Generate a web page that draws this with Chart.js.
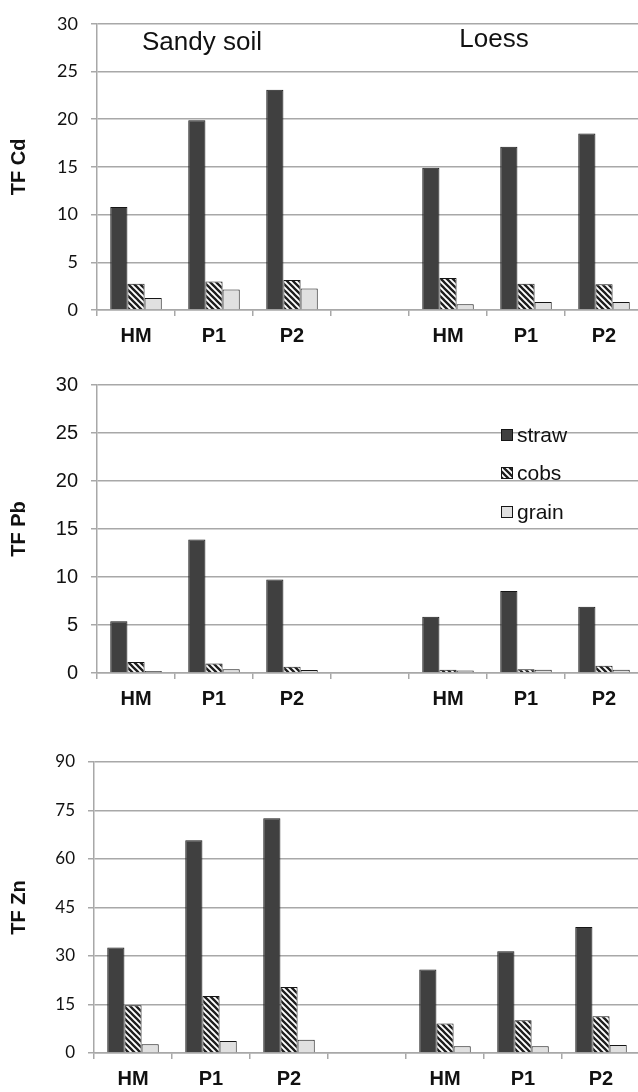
<!DOCTYPE html>
<html>
<head>
<meta charset="utf-8">
<script src="https://cdn.jsdelivr.net/npm/chart.js@4/dist/chart.umd.min.js"></script>
<style>
  html, body { margin: 0; padding: 0; background: #fff; width: 638px; height: 1092px; overflow: hidden; }
  canvas { position: absolute; left: 0; }
  #cd { top: 0; }
  #pb { top: 360px; }
  #zn { top: 720px; }
</style>
</head>
<body>
<canvas id="cd" width="650" height="360"></canvas>
<canvas id="pb" width="650" height="360"></canvas>
<canvas id="zn" width="650" height="372"></canvas>
<script>
const categories = ["HM", "P1", "P2", "", "HM", "P1", "P2"];
const seriesNames = ["straw", "cobs", "grain"];
const soilLabels = ["Sandy soil", "Loess"];

// transfer factors (gap column is null)
const cdStraw = [10.8, 19.9, 23.1, null, 14.9, 17.1, 18.5];
const cdCobs = [2.75, 3.0, 3.15, null, 3.35, 2.75, 2.7];
const cdGrain = [1.25, 2.15, 2.25, null, 0.6, 0.85, 0.85];

const pbStraw = [5.4, 13.9, 9.75, null, 5.85, 8.55, 6.9];
const pbCobs = [1.15, 1.0, 0.65, null, 0.35, 0.4, 0.75];
const pbGrain = [0.2, 0.4, 0.3, null, 0.25, 0.35, 0.35];

const znStraw = [32.6, 65.8, 72.6, null, 25.8, 31.5, 39.0];
const znCobs = [14.8, 17.6, 20.4, null, 9.1, 10.1, 11.4];
const znGrain = [2.7, 3.7, 4.1, null, 2.1, 2.1, 2.5];

const cdTicks = { max: 30, step: 5 };
const pbTicks = { max: 30, step: 5 };
const znTicks = { max: 90, step: 15 };

const gridColor = "#a8a8a8";

function hatch() {
    const c = document.createElement("canvas");
    c.width = 6;
    c.height = 6;
    const g = c.getContext("2d");
    g.fillStyle = "#fff";
    g.fillRect(0, 0, 6, 6);
    g.strokeStyle = "#1e1e1e";
    g.lineWidth = 2.3;
    g.beginPath();
    g.moveTo(-2, -2); g.lineTo(8, 8);
    g.moveTo(-2, 4); g.lineTo(2, 8);
    g.moveTo(4, -2); g.lineTo(8, 2);
    g.stroke();
    return g.createPattern(c, "repeat");
}
const cobsFill = hatch();

const fills = ["#404040", cobsFill, "#e0e0e0"];

function makeData(straw, cobs, grain) {
    return {
        labels: categories,
        datasets: [straw, cobs, grain].map((vals, i) => ({
            label: seriesNames[i],
            data: vals,
            backgroundColor: fills[i],
            borderColor: "#161616",
            borderWidth: 1,
            borderSkipped: "bottom",
            categoryPercentage: 0.66,
            barPercentage: 1.0,
        })),
    };
}

// soil type labels on the top panel
const soilText = {
    id: "soilText",
    afterDraw(chart) {
        const ctx = chart.ctx;
        ctx.save();
        ctx.fillStyle = "#111";
        ctx.font = "26px 'Liberation Sans', Arial, sans-serif";
        ctx.textAlign = "center";
        ctx.textBaseline = "alphabetic";
        ctx.fillText(soilLabels[0], 202, 50);
        ctx.fillText(soilLabels[1], 494, 47);
        ctx.restore();
    },
};

// legend sitting inside the Pb panel
const sideLegend = {
    id: "sideLegend",
    afterDraw(chart) {
        const ctx = chart.ctx;
        const x = 501;
        const rows = [75, 113, 152];
        ctx.save();
        ctx.font = "21px 'Liberation Sans', Arial, sans-serif";
        ctx.textBaseline = "middle";
        chart.data.datasets.forEach((ds, i) => {
            const y = rows[i];
            ctx.fillStyle = ds.backgroundColor;
            ctx.fillRect(x, y - 6, 12, 12);
            ctx.strokeStyle = "#161616";
            ctx.lineWidth = 1;
            ctx.strokeRect(x + 0.5, y - 5.5, 11, 11);
            ctx.fillStyle = "#111";
            ctx.fillText(ds.label, x + 16, y + 1);
        });
        ctx.restore();
    },
};

function makeChart(id, data, t, opt) {
    return new Chart(document.getElementById(id), {
        type: "bar",
        data,
        plugins: opt.plugins,
        options: {
            responsive: false,
            animation: false,
            layout: { padding: { top: opt.top, right: opt.right, left: 0, bottom: 0 } },
            plugins: {
                legend: { display: false },
                tooltip: { enabled: false },
            },
            scales: {
                x: {
                    afterFit: (s) => { s.height = opt.xHeight; },
                    grid: {
                        offset: true,
                        drawOnChartArea: false,
                        drawTicks: true,
                        tickLength: 6,
                        color: gridColor,
                        lineWidth: 1.5,
                    },
                    border: { display: true, color: gridColor, width: 1.5 },
                    ticks: {
                        color: "#111",
                        padding: 8,
                        maxRotation: 0,
                        autoSkip: false,
                        font: { family: "'Liberation Sans', Arial, sans-serif", size: 20, weight: "bold" },
                    },
                },
                y: {
                    min: 0,
                    max: t.max,
                    afterFit: (s) => { s.width = opt.yWidth; },
                    grid: { color: gridColor, lineWidth: 1.5, tickLength: 6 },
                    border: { display: true, color: gridColor, width: 1.5 },
                    ticks: {
                        stepSize: t.step,
                        color: "#111",
                        padding: 13,
                        font: { family: opt.tickFont, size: opt.tickSize },
                    },
                    title: {
                        display: true,
                        text: opt.title,
                        color: "#111",
                        padding: { top: 7, bottom: 0 },
                        font: { family: "'Liberation Sans', Arial, sans-serif", size: 20, weight: "bold" },
                    },
                },
            },
        },
    });
}

makeChart("cd", makeData(cdStraw, cdCobs, cdGrain), cdTicks, {
    title: "TF Cd", top: 19, right: 7, xHeight: 50, yWidth: 97,
    tickFont: "Lato, 'Open Sans', sans-serif", tickSize: 18, plugins: [soilText],
});
makeChart("pb", makeData(pbStraw, pbCobs, pbGrain), pbTicks, {
    title: "TF Pb", top: 25, right: 7, xHeight: 47, yWidth: 97,
    tickFont: "'Liberation Sans', Arial, sans-serif", tickSize: 20, plugins: [sideLegend],
});
makeChart("zn", makeData(znStraw, znCobs, znGrain), znTicks, {
    title: "TF Zn", top: 42, right: 10, xHeight: 39, yWidth: 94,
    tickFont: "Lato, 'Open Sans', sans-serif", tickSize: 17, plugins: [],
});
</script>
</body>
</html>
